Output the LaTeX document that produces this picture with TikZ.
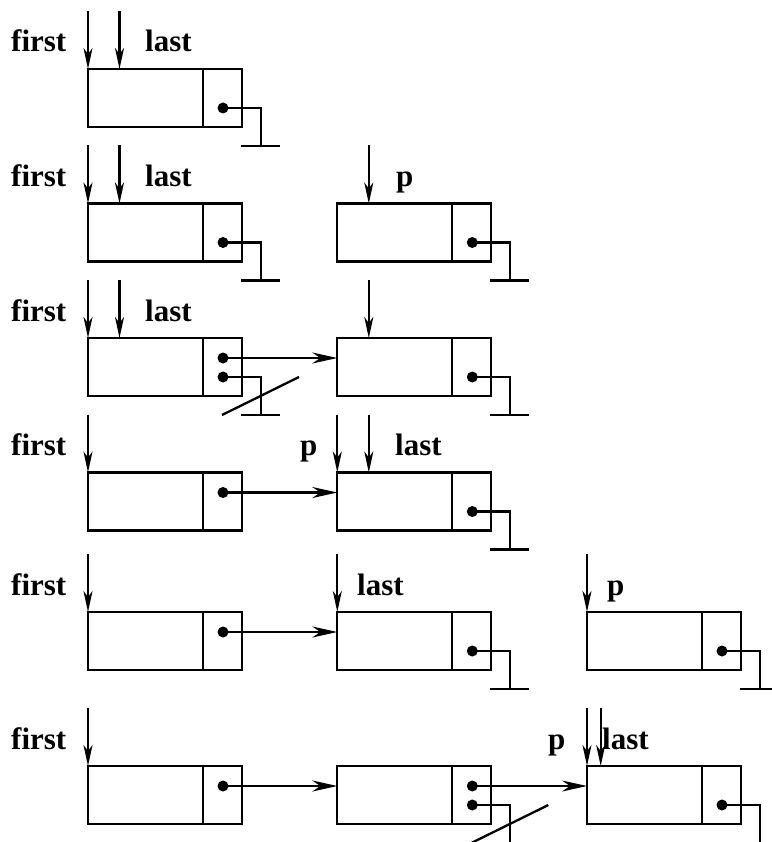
\documentclass[tikz,border=0pt]{standalone}
\usepackage{fontspec}
\setmainfont{Liberation Serif}
\usetikzlibrary{arrows.meta,calc}
\tikzset{
  cell/.style={draw, line width=2.3pt, minimum width=154pt, minimum height=58pt,
    anchor=north west, inner sep=0pt, outer sep=0pt},
  wire/.style={line width=2.3pt},
  ptr/.style={line width=2.3pt, -{Stealth[length=21pt,width=9pt,inset=6pt]}},
  link/.style={line width=2.3pt, -{Stealth[length=25pt,width=11pt,inset=8pt]}},
  lbl/.style={font=\fontsize{31}{31}\selectfont\bfseries, inner sep=0pt, anchor=base west}
}
% #1 name, #2 x, #3 top y
\newcommand{\cellbox}[3]{%
  \node[cell] (#1) at (#2,#3) {};
  \coordinate (#1-dt) at ($(#1.north west)+(115pt,0)$);
  \coordinate (#1-db) at ($(#1.south west)+(115pt,0)$);
  \draw[wire] (#1-dt) -- (#1-db);
  \coordinate (#1-a) at ($(#1.north west)+(135pt,-20pt)$);
  \coordinate (#1-b) at ($(#1.north west)+(135pt,-39pt)$);
  \coordinate (#1-in) at ($(#1.north west)+(0,-20pt)$);
  \coordinate (#1-g) at ($(#1.north west)+(173pt,-77pt)$);
  \coordinate (#1-gl) at ($(#1.north west)+(153pt,-77pt)$);
  \coordinate (#1-gr) at ($(#1.north west)+(192pt,-77pt)$);
  \coordinate (#1-t0) at ($(#1.north west)+(0,58pt)$);
  \coordinate (#1-t1) at ($(#1.north west)+(31.5pt,58pt)$);
  \coordinate (#1-h1) at ($(#1.north west)+(31.5pt,0)$);
}
% ground from lower dot
\newcommand{\groundit}[1]{%
  \fill (#1-b) circle (5.5pt);
  \draw[wire] (#1-b) -| (#1-g);
  \draw[wire] (#1-gl) -- (#1-gr);
}
% strike line
\newcommand{\strike}[1]{%
  \coordinate (#1-s0) at ($(#1-b)+(-1pt,-38pt)$);
  \coordinate (#1-s1) at ($(#1-b)+(76pt,0)$);
  \draw[wire] (#1-s0) -- (#1-s1);
}
\begin{document}
\begin{tikzpicture}[x=1pt,y=-1pt]
\useasboundingbox (0,0) rectangle (771,842);

% ---------- Row 1 ----------
\cellbox{b11}{88}{69}
\groundit{b11}
\node[lbl] (f1) at (11,52) {first};
\node[lbl] (l1) at (145,52) {last};
\draw[ptr] (b11-t0) -- (b11.north west);
\draw[ptr] (b11-t1) -- (b11-h1);

% ---------- Row 2 ----------
\cellbox{b21}{88}{203.5}
\cellbox{b22}{337.3}{203.5}
\groundit{b21}
\groundit{b22}
\node[lbl] (f2) at (11,186.5) {first};
\node[lbl] (l2) at (145,186.5) {last};
\node[lbl] (p2) at (396,186.5) {p};
\draw[ptr] (b21-t0) -- (b21.north west);
\draw[ptr] (b21-t1) -- (b21-h1);
\draw[ptr] (b22-t1) -- (b22-h1);

% ---------- Row 3 ----------
\cellbox{b31}{88}{338}
\cellbox{b32}{337.3}{338}
\fill (b31-a) circle (5.5pt);
\draw[link] (b31-a) -- (b32-in);
\groundit{b31}
\strike{b31}
\groundit{b32}
\node[lbl] (f3) at (11,321) {first};
\node[lbl] (l3) at (145,321) {last};
\draw[ptr] (b31-t0) -- (b31.north west);
\draw[ptr] (b31-t1) -- (b31-h1);
\draw[ptr] (b32-t1) -- (b32-h1);

% ---------- Row 4 ----------
\cellbox{b41}{88}{472.5}
\cellbox{b42}{337.3}{472.5}
\fill (b41-a) circle (5.5pt);
\draw[link] (b41-a) -- (b42-in);
\groundit{b42}
\node[lbl] (f4) at (11,455.5) {first};
\node[lbl] (p4) at (300,455.5) {p};
\node[lbl] (l4) at (395,455.5) {last};
\draw[ptr] (b41-t0) -- (b41.north west);
\draw[ptr] (b42-t0) -- (b42.north west);
\draw[ptr] (b42-t1) -- (b42-h1);

% ---------- Row 5 ----------
\cellbox{b51}{88}{612}
\cellbox{b52}{337.3}{612}
\cellbox{b53}{587}{612}
\fill (b51-a) circle (5.5pt);
\draw[link] (b51-a) -- (b52-in);
\groundit{b52}
\groundit{b53}
\node[lbl] (f5) at (11,595) {first};
\node[lbl] (l5) at (357,595) {last};
\node[lbl] (p5) at (607,595) {p};
\draw[ptr] (b51-t0) -- (b51.north west);
\draw[ptr] (b52-t0) -- (b52.north west);
\draw[ptr] (b53-t0) -- (b53.north west);

% ---------- Row 6 ----------
\cellbox{b61}{88}{766}
\cellbox{b62}{337.3}{766}
\cellbox{b63}{587}{766}
\fill (b61-a) circle (5.5pt);
\draw[link] (b61-a) -- (b62-in);
\fill (b62-a) circle (5.5pt);
\draw[link] (b62-a) -- (b63-in);
\fill (b62-b) circle (5.5pt);
\coordinate (e62) at ($(b62-g)+(0,-1pt)$);
\draw[wire] (b62-b) -| (e62);
\strike{b62}
\fill (b63-b) circle (5.5pt);
\coordinate (e63) at ($(b63-g)+(0,-1pt)$);
\draw[wire] (b63-b) -| (e63);
\coordinate (b63-t2) at ($(b63.north west)+(13.7pt,58pt)$);
\coordinate (b63-h2) at ($(b63.north west)+(13.7pt,0)$);
\node[lbl] (f6) at (11,749) {first};
\node[lbl] (p6) at (548,749) {p};
\node[lbl] (l6) at (602,749) {last};
\draw[ptr] (b61-t0) -- (b61.north west);
\draw[ptr] (b63-t0) -- (b63.north west);
\draw[ptr] (b63-t2) -- (b63-h2);
\end{tikzpicture}
\end{document}
